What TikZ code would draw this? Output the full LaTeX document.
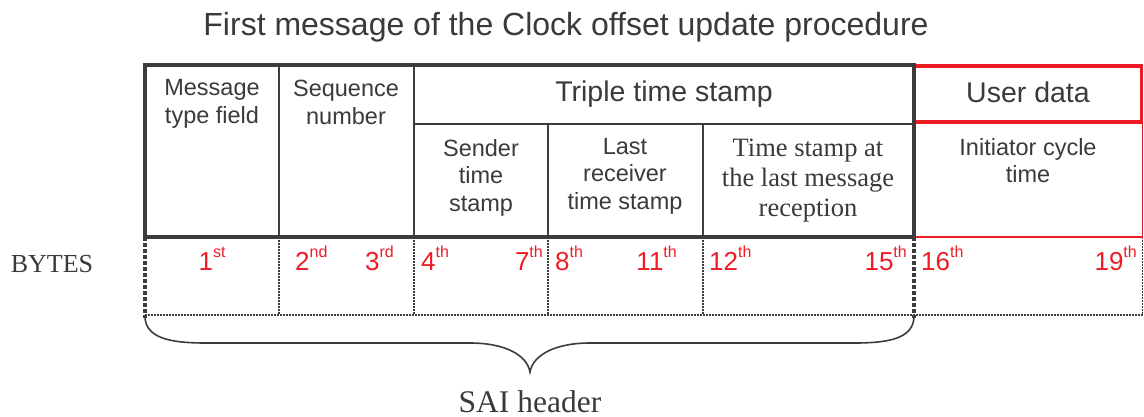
\documentclass[tikz,border=0pt]{standalone}
\usepackage{fontspec}
\setmainfont{Liberation Serif}
\newfontfamily\arialf{Liberation Sans}
\definecolor{tg}{RGB}{58,58,58}
\definecolor{lg}{RGB}{60,60,60}
\definecolor{rd}{RGB}{237,28,36}
\newcommand{\ordl}[2]{#1\raisebox{12.5pt}{\fontsize{16}{16}\selectfont #2}}
\begin{document}
\begin{tikzpicture}[x=1pt,y=-1pt,
  cell/.style={font=\arialf\fontsize{23.5}{27.5}\selectfont, text=tg, align=center, anchor=north, inner sep=0pt},
  serifcell/.style={font=\fontsize{26.5}{30}\selectfont, text=tg, align=center, anchor=north, inner sep=0pt},
  hdr/.style={font=\arialf\fontsize{28.5}{30}\selectfont, text=tg, anchor=base, inner sep=0pt},
  byte/.style={font=\arialf\fontsize{26}{26}\selectfont, text=rd, inner sep=0pt},
  outerline/.style={draw=lg, line width=3.3pt},
  innerline/.style={draw=lg, line width=1.8pt},
  dotline/.style={draw=lg, line width=1.5pt, dash pattern=on 1.5pt off 1.5pt},
  dashline/.style={draw=lg, line width=3.5pt, dash pattern=on 3.5pt off 2.5pt},
  redthick/.style={draw=rd, line width=3.3pt},
  redthin/.style={draw=rd, line width=1.5pt},
  bracestyle/.style={draw=lg, line width=1.6pt}
]
\useasboundingbox (0,0) rectangle (1144,417);

% title
\node[font=\arialf\fontsize{32}{34}\selectfont, text=tg, anchor=base, inner sep=0pt] (title) at (566,36) {First message of the Clock offset update procedure};

% byte row lines
\draw[dotline] (145,315) -- (1144,315);
\foreach \x in {279,414,548,703} \draw[dotline] (\x,237) -- (\x,315);
\draw[dotline] (1142.5,237) -- (1142.5,315);
\draw[dashline] (145,237) -- (145,318);
\draw[dashline] (914,237) -- (914,318);

% red user data
\draw[redthin] (1142.5,124) -- (1142.5,237) -- (914,237);
\draw[redthick] (914,66) rectangle (1141.5,122);

% SAI header table
\draw[innerline] (279,65) -- (279,237);
\draw[innerline] (414,65) -- (414,237);
\draw[innerline] (414,124) -- (914,124);
\draw[innerline] (548,124) -- (548,237);
\draw[innerline] (703,124) -- (703,237);
\draw[outerline] (145,65) rectangle (914,237);

% cell texts
\node[cell] (msg) at (212,79.5) {Message\\type field};
\node[cell] (seq) at (346,80) {Sequence\\number};
\node[hdr] (tts) at (664,102) {Triple time stamp};
\node[hdr] (ud) at (1028,103) {User data};
\node[cell] (snd) at (481,139) {Sender\\time\\stamp};
\node[cell] (lrt) at (625,138) {Last\\receiver\\time stamp};
\node[serifcell] (tsl) at (808,139) {Time stamp at\\the last message\\reception};
\node[cell] (ict) at (1028,138) {Initiator cycle\\time};

% byte labels
\node[font=\fontsize{26}{26}\selectfont, text=tg, anchor=base, inner sep=0pt] (bytes) at (52,272) {BYTES};
\node[byte, anchor=base] (b1) at (212,270) {\ordl{1}{st}};
\node[byte, anchor=base west] (b2) at (295,270) {\ordl{2}{nd}};
\node[byte, anchor=base east] (b3) at (394,270) {\ordl{3}{rd}};
\node[byte, anchor=base west] (b4) at (421,270) {\ordl{4}{th}};
\node[byte, anchor=base east] (b7) at (543,270) {\ordl{7}{th}};
\node[byte, anchor=base west] (b8) at (555,270) {\ordl{8}{th}};
\node[byte, anchor=base east] (b11) at (677,270) {\ordl{11}{th}};
\node[byte, anchor=base west] (b12) at (709,270) {\ordl{12}{th}};
\node[byte, anchor=base east] (b15) at (907,270) {\ordl{15}{th}};
\node[byte, anchor=base west] (b16) at (921,270) {\ordl{16}{th}};
\node[byte, anchor=base east] (b19) at (1137,270) {\ordl{19}{th}};

% brace
\coordinate (bl) at (145,316);
\coordinate (br) at (914,316);
\coordinate (bt) at (530,372);
\draw[bracestyle] (bl) .. controls (145,338) and (170,343) .. (205,343) -- (470,343)
  .. controls (505,343) and (527,355) .. (bt)
  .. controls (533,355) and (555,343) .. (590,343) -- (855,343)
  .. controls (890,343) and (914,338) .. (br);

\node[font=\fontsize{31.5}{33}\selectfont, text=tg, anchor=base, inner sep=0pt] (sai) at (530,412) {SAI header};
\end{tikzpicture}
\end{document}
